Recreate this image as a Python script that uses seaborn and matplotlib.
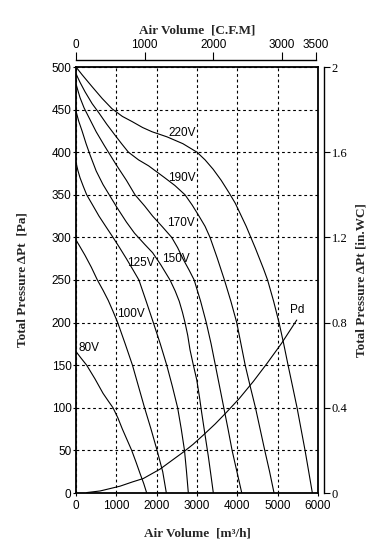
import numpy as np
import pandas as pd
import matplotlib
matplotlib.use('Agg')
import matplotlib.pyplot as plt
import seaborn as sns

# fan curves: air volume [m3/h] vs total pressure [Pa]
q_220 = [0, 150, 397, 650, 893, 1150, 1389, 1650, 1885, 2257, 2650, 3000, 3200, 3400, 3600, 3800,
         3950, 4100, 4220, 4335, 4450, 4550, 4650, 4750, 4900, 5034, 5150, 5258, 5370, 5481, 5580,
         5679, 5770, 5860]
p_220 = [500, 491, 477, 463, 451, 442, 436, 429, 424, 418, 410, 400, 391, 380, 367, 352,
         340, 325, 313, 300, 287, 275, 263, 250, 225, 200, 175, 150, 125, 100, 75,
         50, 25, 0]
q_190 = [0, 100, 223, 400, 570, 760, 967, 1130, 1300, 1550, 1800, 2000, 2200, 2450, 2703, 2880,
         3050, 3200, 3323, 3500, 3680, 3840, 3985, 4090, 4195, 4320, 4450, 4565, 4680, 4800, 4910]
p_190 = [492, 482, 471, 457, 446, 433, 420, 410, 400, 391, 384, 377, 370, 361, 350, 338,
         325, 313, 300, 276, 250, 225, 200, 175, 150, 125, 100, 75, 50, 25, 0]
q_170 = [0, 100, 200, 350, 500, 700, 1000, 1250, 1463, 1700, 1900, 2150, 2373, 2520, 2650, 2800,
         2930, 3090, 3230, 3350, 3455, 3560, 3665, 3770, 3870, 3990, 4110]
p_170 = [480, 464, 452, 438, 424, 408, 385, 367, 350, 337, 325, 312, 300, 288, 275, 262,
         250, 225, 200, 175, 150, 125, 100, 75, 50, 25, 0]
q_150 = [0, 70, 150, 250, 347, 500, 670, 850, 1017, 1250, 1450, 1700, 1900, 2100, 2331, 2460,
         2560, 2640, 2703, 2770, 2827, 2910, 2993, 3060, 3117, 3200, 3281, 3345, 3405]
p_150 = [448, 436, 425, 410, 397, 378, 362, 348, 335, 318, 305, 292, 282, 268, 250, 237,
         225, 212, 200, 185, 168, 150, 133, 113, 94, 68, 43, 21, 0]
q_125 = [0, 50, 100, 180, 265, 400, 570, 750, 918, 1080, 1250, 1400, 1560, 1740, 1917, 2090,
         2250, 2390, 2520, 2610, 2690, 2740, 2785]
p_125 = [388, 378, 370, 360, 350, 339, 325, 312, 300, 288, 275, 263, 250, 225, 200, 175,
         150, 125, 100, 75, 50, 25, 0]
q_100 = [0, 100, 223, 380, 530, 670, 800, 920, 1034, 1220, 1400, 1550, 1700, 1860, 2010, 2150, 2240]
p_100 = [297, 289, 279, 265, 250, 238, 226, 213, 200, 175, 150, 125, 100, 75, 50, 25, 0]
q_80 = [0, 130, 265, 470, 670, 800, 918, 1040, 1150, 1270, 1381, 1490, 1587, 1680, 1753]
p_80 = [166, 158, 150, 134, 117, 108, 100, 88, 75, 62, 50, 36, 23, 11, 0]
q_pd = [265, 600, 1091, 1400, 1669, 2083, 2400, 2661, 2900, 3157, 3450, 3737, 4050, 4398, 4750,
        5101, 5473]
p_pd = [0.5, 2.4, 8, 13, 17, 28, 39, 48, 57, 68, 81, 95, 111, 131, 153, 176, 203]

curve_names = ['220V', '190V', '170V', '150V', '125V', '100V', '80V', 'Pd']
curve_q = [q_220, q_190, q_170, q_150, q_125, q_100, q_80, q_pd]
curve_p = [p_220, p_190, p_170, p_150, p_125, p_100, p_80, p_pd]

# where the curve names sit (left edge, vertical centre)
label_q = [2282, 2282, 2257, 2133, 1265, 1009, 74, 5307]
label_p = [423, 370, 317, 275, 270, 210, 170, 215]

x_ticks = [0, 1000, 2000, 3000, 4000, 5000, 6000]
y_ticks = [0, 50, 100, 150, 200, 250, 300, 350, 400, 450, 500]
cfm_ticks = [0, 1000, 2000, 3000, 3500]
wc_ticks = [0, 0.4, 0.8, 1.2, 1.6, 2]
wc_labels = ['0', '0.4', '0.8', '1.2', '1.6', '2']

rows = []
for name, qs, ps in zip(curve_names, curve_q, curve_p):
    for q, p in zip(qs, ps):
        rows.append((name, q, p))
df = pd.DataFrame(rows, columns=['curve', 'q', 'p'])

sns.set_theme(style='white')
plt.rcParams['font.family'] = ['Liberation Sans', 'DejaVu Sans']
serif = ['Liberation Serif', 'DejaVu Serif']

fig, ax = plt.subplots(figsize=(3.79, 5.51), dpi=100)
fig.subplots_adjust(left=76 / 379, right=318 / 379, bottom=1 - 493 / 551, top=1 - 67 / 551)

sns.lineplot(data=df, x='q', y='p', units='curve', estimator=None, sort=False,
             color='black', lw=0.8, ax=ax)

for name, lq, lp in zip(curve_names, label_q, label_p):
    ax.text(lq, lp, name, fontsize=8.5, ha='left', va='center', color='black')

ax.set_xlim(0, 6000)
ax.set_ylim(0, 500)
ax.set_xticks(x_ticks)
ax.set_yticks(y_ticks)
ax.grid(True, color='black', lw=0.8, linestyle=(0, (2.5, 2.5)))
for s in ax.spines.values():
    s.set_color('black')
    s.set_linewidth(1.3)
ax.tick_params(axis='both', which='major', direction='out', length=2.2, width=0.8,
               colors='black', labelsize=8.5, left=True, bottom=True)
ax.tick_params(axis='x', pad=2.8)
ax.tick_params(axis='y', pad=1.0)
ax.set_xlabel('Air Volume  [m³/h]', fontsize=9.5, fontweight='bold', family=serif, labelpad=11)
ax.set_ylabel('Total Pressure ΔPt  [Pa]', fontsize=9.5, fontweight='bold', family=serif, labelpad=16.5)

# top axis in C.F.M
ax_top = ax.twiny()
ax_top.set_xlim(0, 3500 * 242 / 240)
ax_top.set_xticks(cfm_ticks)
for k in ['left', 'right', 'bottom']:
    ax_top.spines[k].set_visible(False)
ax_top.spines['top'].set_position(('outward', 5))
ax_top.spines['top'].set_bounds(0, 3500)
ax_top.spines['top'].set_linewidth(1.0)
ax_top.spines['top'].set_color('black')
ax_top.tick_params(axis='x', direction='out', length=5.8, width=0.8, colors='black',
                   labelsize=8.5, pad=1, top=True)
ax_top.set_xlabel('Air Volume  [C.F.M]', fontsize=9.5, fontweight='bold', family=serif, labelpad=4)

# right axis in in.WC
ax_r = ax.twinx()
ax_r.set_ylim(0, 2)
ax_r.set_yticks(wc_ticks, labels=wc_labels)
for k in ['left', 'top', 'bottom']:
    ax_r.spines[k].set_visible(False)
ax_r.spines['right'].set_position(('outward', 4.3))
ax_r.spines['right'].set_linewidth(1.0)
ax_r.spines['right'].set_color('black')
ax_r.tick_params(axis='y', direction='out', length=4.3, width=0.8, colors='black',
                 labelsize=9, pad=1.4, right=True, labelfontfamily='Liberation Serif')
ax_r.set_ylabel('Total Pressure ΔPt [in.WC]', fontsize=9.5, fontweight='bold', family=serif,
                rotation=90, labelpad=6)

fig.savefig('out.png', dpi=100)
